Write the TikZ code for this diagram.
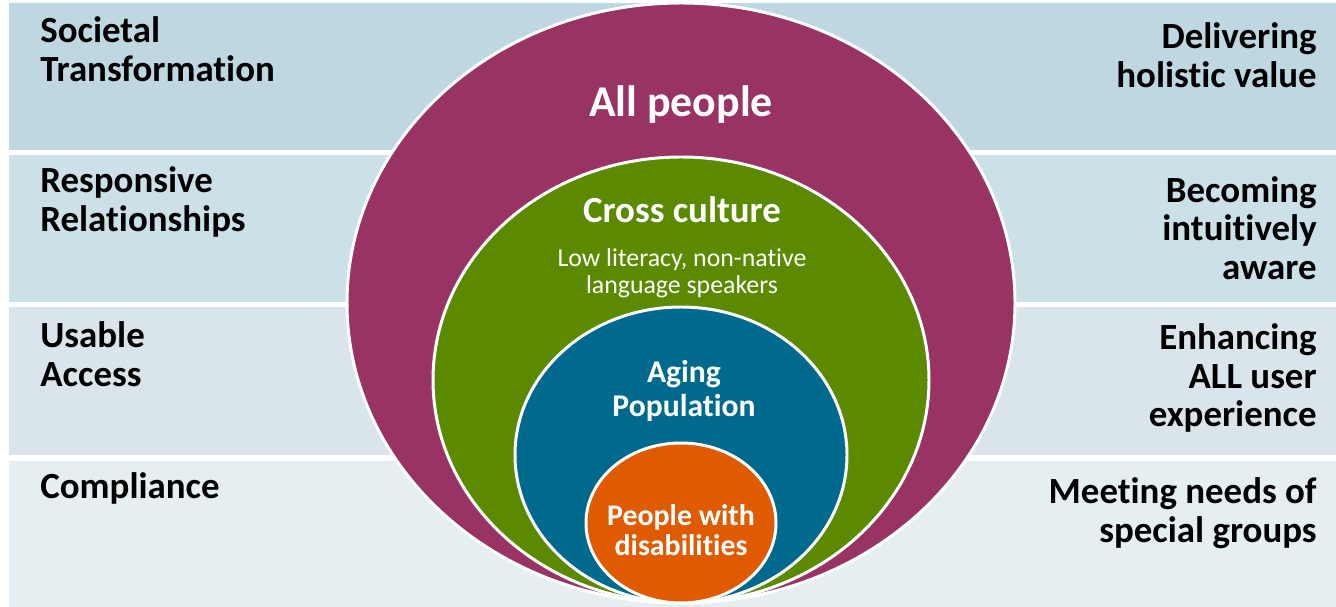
\documentclass[tikz,border=0pt]{standalone}
\usepackage{fontspec}
\setmainfont{Carlito}[Ligatures=NoCommon]
\usepackage{tikz}
\definecolor{bandOne}{HTML}{BFD7E1}
\definecolor{bandTwo}{HTML}{CCE0E7}
\definecolor{bandThree}{HTML}{D9E5EB}
\definecolor{bandFour}{HTML}{E5EEF1}
\definecolor{ringPlum}{HTML}{983363}
\definecolor{ringGreen}{HTML}{5B8A00}
\definecolor{ringBlue}{HTML}{006A8E}
\definecolor{ringOrange}{HTML}{E05A00}
\tikzset{
  sidelbl/.style={font=\fontsize{21}{21.9}\selectfont\bfseries,inner sep=0pt},
  ringlbl/.style={text=white,align=center,inner sep=0pt},
  ring/.style={draw=white,line width=1.7pt}
}

\begin{document}
\begin{tikzpicture}[x=.02cm,y=-.02cm]
  \useasboundingbox (0,0) rectangle (1336,607);
  \fill[white] (0,0) rectangle (1336,607);
  \foreach \top/\bot/\col in {3/150/bandOne,155/302/bandTwo,307/455/bandThree,461/607/bandFour}{
    \fill[\col] (9,\top) rectangle (1336,\bot);
  }
  \foreach \cy/\rx/\ry/\col in {303/334/300/ringPlum,380/248/223/ringGreen,
    455/166/148/ringBlue,523/95/80/ringOrange}{
    \filldraw[ring,fill=\col] (681,\cy) ellipse [x radius=\rx,y radius=\ry];
  }
  % circle texts
  \node[ringlbl,font=\fontsize{25}{27}\selectfont\bfseries] (allPeople) at (681,105) {All people};
  \node[ringlbl,font=\fontsize{21}{23}\selectfont\bfseries] (crossCulture) at (682,210) {Cross culture};
  \node[ringlbl,font=\fontsize{14.7}{15.4}\selectfont] (crossNote) at (682,273)
       {Low literacy, non-native\\language speakers};
  \node[ringlbl,font=\fontsize{18}{19.3}\selectfont\bfseries] (aging) at (684,391) {Aging\\Population};
  \node[ringlbl,font=\fontsize{17}{17}\selectfont\bfseries] (disab) at (681,530) {People with\\disabilities};
  % left column
  \node[sidelbl,anchor=west,align=left] (societal) at (40,49) {Societal\\Transformation};
  \node[sidelbl,anchor=west,align=left] (responsive) at (40,202) {Responsive\\Relationships};
  \node[sidelbl,anchor=west,align=left] (usable) at (40,354) {Usable\\Access};
  \node[sidelbl,anchor=west,align=left] (compliance) at (40,488) {Compliance};
  % right column
  \node[sidelbl,anchor=east,align=right] (holistic) at (1317,55) {Delivering\\holistic value};
  \node[sidelbl,anchor=east,align=right] (intuitive) at (1317,228) {Becoming\\intuitively\\aware};
  \node[sidelbl,anchor=east,align=right] (enhancing) at (1317,378) {Enhancing\\ALL user\\experience};
  \node[sidelbl,anchor=east,align=right] (special) at (1317,513) {Meeting needs of\\special groups};
\end{tikzpicture}
\end{document}
